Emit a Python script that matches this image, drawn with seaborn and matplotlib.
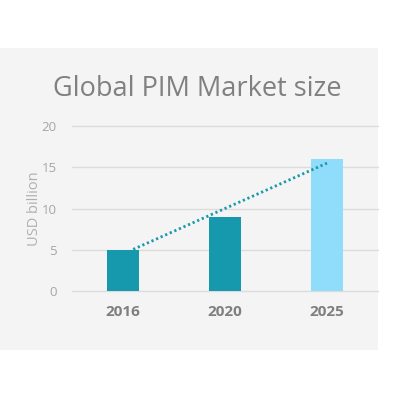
import matplotlib
matplotlib.use("Agg")
import matplotlib.pyplot as plt
import seaborn as sns
import pandas as pd
from matplotlib.patches import Rectangle

years = ["2016", "2020", "2025"]
market_size = [5, 9, 16]
bar_colors = ["#1799ad", "#1799ad", "#8fdcfb"]
trend_x = [0.1, 2.0]
trend_y = [5.05, 15.5]
y_ticks = [0, 5, 10, 15, 20]

sns.set_theme(style="white")
plt.rcParams['font.family'] = ['Open Sans', 'DejaVu Sans']

fig = plt.figure(figsize=(4, 4), dpi=100)
fig.patch.set_facecolor("white")
fig.patches.append(Rectangle((0, 0.125), 0.945, 0.755, transform=fig.transFigure,
                             facecolor="#f4f4f4", edgecolor="none", zorder=-10))

ax = fig.add_axes([0.18, 0.2725, 0.765, 0.4125])
ax.set_facecolor("none")

df = pd.DataFrame({"year": years, "value": market_size})
sns.barplot(data=df, x="year", y="value", hue="year", palette=bar_colors,
            legend=False, width=0.31, ax=ax, saturation=1, zorder=3,
            linewidth=0, edgecolor="none")
ax.plot(trend_x, trend_y, linestyle=(0, (0.8, 1.0)), color="#1a98ac", lw=2, zorder=4)

ax.set_xlim(-0.5, 2.5)
ax.set_ylim(0, 20)
ax.set_yticks(y_ticks)
ax.yaxis.grid(True, color="#dcdcdc", lw=1, clip_on=False)
ax.set_axisbelow(True)
for s in ax.spines.values():
    s.set_visible(False)
ax.tick_params(axis="y", length=0, pad=11, labelsize=9.5, labelcolor="#a6a6a6")
ax.tick_params(axis="x", length=0, pad=10, labelsize=11, labelcolor="#7f7f7f")
for lab in ax.get_xticklabels():
    lab.set_fontweight("bold")
ax.set_xlabel("")
ax.set_ylabel("USD billion", color="#b0b0b0", fontsize=10.5, labelpad=0)

fig.text(0.494, 0.778, "Global PIM Market size", ha="center", va="center",
         fontsize=19.5, color="#808080")

fig.savefig("out.png", dpi=100)
